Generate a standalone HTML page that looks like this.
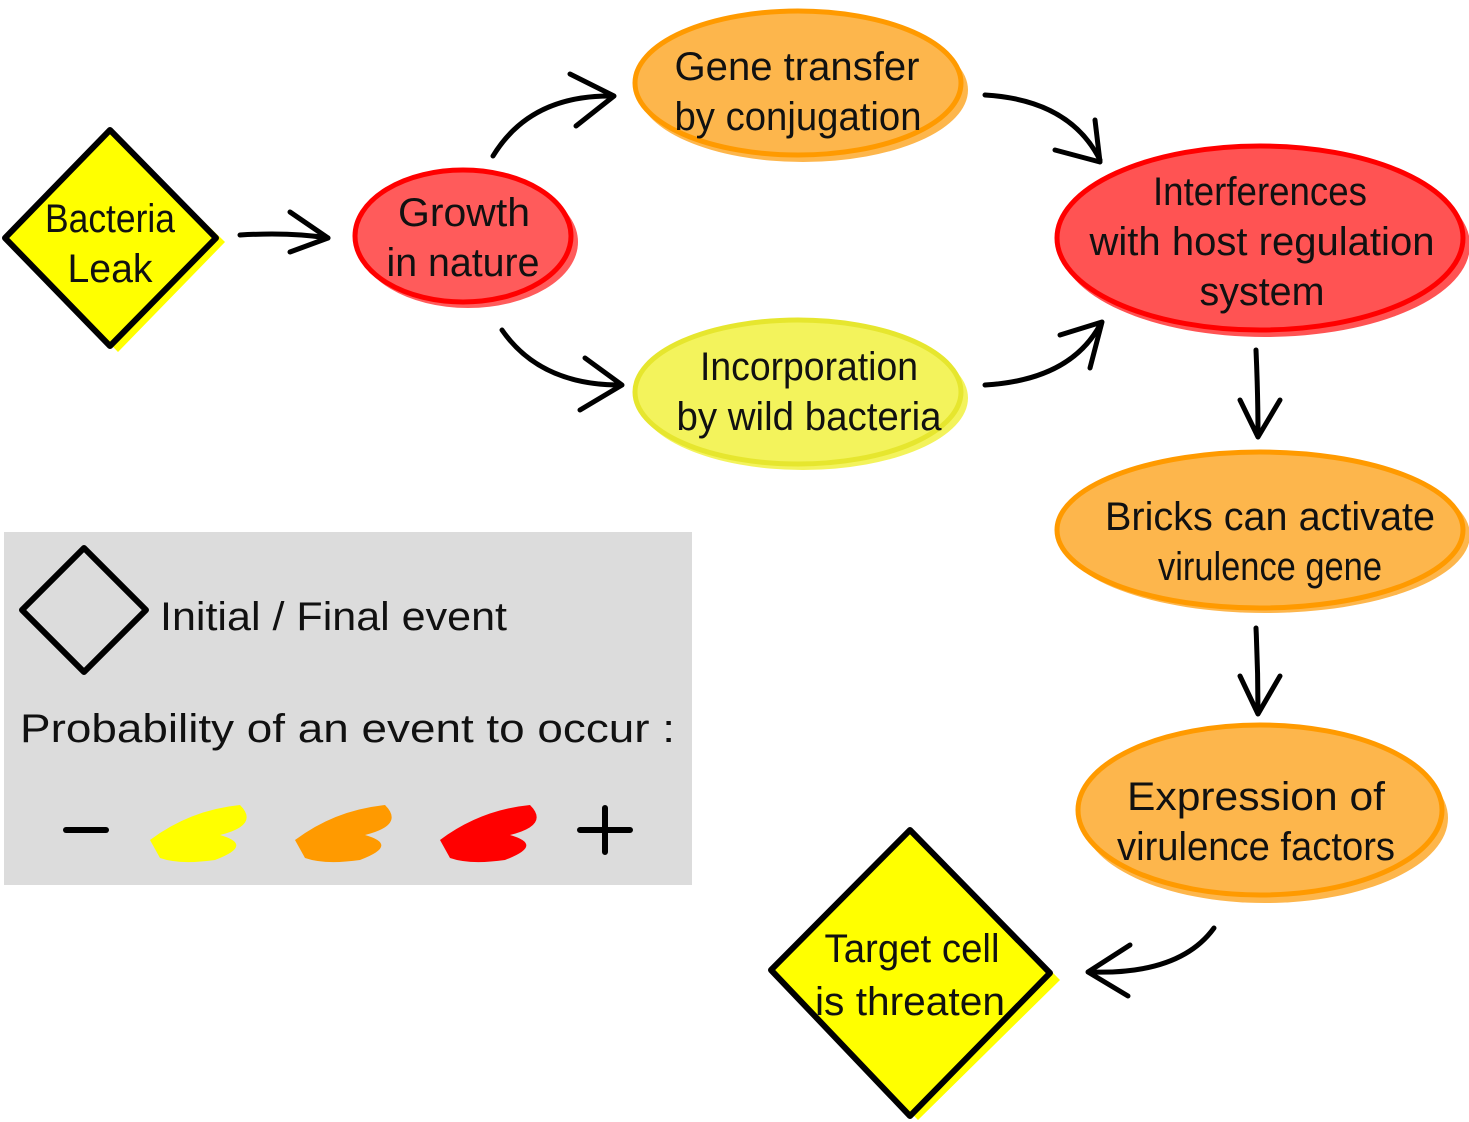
<!DOCTYPE html>
<html><head><meta charset="utf-8">
<style>
html,body{margin:0;padding:0;background:#fff;}
svg{display:block;}
text{font-family:"Liberation Sans",sans-serif;font-size:40px;fill:#111;text-anchor:middle;}
</style></head>
<body>
<svg width="1469" height="1122" viewBox="0 0 1469 1122">
<g fill="none" stroke="#000" stroke-width="5" stroke-linecap="round" stroke-linejoin="round">
<g><path d="M240 235 Q290 232 328 238"/><path d="M290 212 L328 238 L290 252"/></g>
<g><path d="M493 156 Q530 95 612 96"/><path d="M570 74 L614 96 L576 126"/></g>
<g><path d="M502 330 Q540 385 620 385"/><path d="M585 358 L622 385 L580 410"/></g>
<g><path d="M985 95 Q1070 100 1100 160"/><path d="M1055 150 L1100 162 L1095 120"/></g>
<g><path d="M985 385 Q1070 380 1100 325"/><path d="M1060 335 L1102 322 L1090 368"/></g>
<g><path d="M1256 350 Q1258 395 1258 435"/><path d="M1240 400 L1258 437 L1280 400"/></g>
<g><path d="M1256 628 Q1258 670 1258 712"/><path d="M1240 676 L1258 714 L1280 676"/></g>
<g><path d="M1214 928 Q1180 975 1090 972"/><path d="M1130 945 L1088 972 L1128 996"/></g>
</g>

<g>
<path d="M118 138 L225 242 L118 352 L12 242 Z" fill="#ffff00"/>
<path d="M110 130 L216 238 L110 346 L5 238 Z" fill="#ffff00" stroke="#000" stroke-width="6" stroke-linejoin="round"/>
<text x="110" y="232" textLength="130" lengthAdjust="spacingAndGlyphs">Bacteria</text><text x="110" y="282" textLength="85" lengthAdjust="spacingAndGlyphs">Leak</text>
</g>
<g>
<path d="M918 836 L1060 980 L918 1120 L778 976 Z" fill="#ffff00"/>
<path d="M910 830 L1050 973 L910 1116 L771 970 Z" fill="#ffff00" stroke="#000" stroke-width="6" stroke-linejoin="round"/>
<text x="912" y="962" textLength="175" lengthAdjust="spacingAndGlyphs">Target cell</text><text x="910" y="1015" textLength="190" lengthAdjust="spacingAndGlyphs">is threaten</text>
</g>

<g>
<ellipse cx="468" cy="242" rx="110" ry="66" fill="#ff5b5b"/>
<ellipse cx="463" cy="236" rx="108" ry="66" fill="#ff5b5b" stroke="#ff0000" stroke-width="5"/>
<text x="464" y="226" textLength="132" lengthAdjust="spacingAndGlyphs">Growth</text><text x="463" y="276" textLength="153" lengthAdjust="spacingAndGlyphs">in nature</text>
</g>
<g>
<ellipse cx="803" cy="90" rx="165" ry="72" fill="#fdb64c"/>
<ellipse cx="798" cy="83" rx="163" ry="72" fill="#fdb64c" stroke="#ff9a00" stroke-width="5"/>
<text x="797" y="80" textLength="245" lengthAdjust="spacingAndGlyphs">Gene transfer</text><text x="798" y="130" textLength="247" lengthAdjust="spacingAndGlyphs">by conjugation</text>
</g>
<g>
<ellipse cx="803" cy="398" rx="165" ry="72" fill="#f3f35c"/>
<ellipse cx="798" cy="392" rx="163" ry="72" fill="#f3f35c" stroke="#e6e62e" stroke-width="5"/>
<text x="809" y="380" textLength="218" lengthAdjust="spacingAndGlyphs">Incorporation</text><text x="809" y="430" textLength="265" lengthAdjust="spacingAndGlyphs">by wild bacteria</text>
</g>
<g>
<ellipse cx="1265" cy="245" rx="205" ry="92" fill="#ff5353"/>
<ellipse cx="1260" cy="238" rx="203" ry="92" fill="#ff5353" stroke="#ff0000" stroke-width="5"/>
<text x="1260" y="205" textLength="214" lengthAdjust="spacingAndGlyphs">Interferences</text><text x="1262" y="255" textLength="345" lengthAdjust="spacingAndGlyphs">with host regulation</text><text x="1262" y="305" textLength="125" lengthAdjust="spacingAndGlyphs">system</text>
</g>
<g>
<ellipse cx="1265" cy="535" rx="205" ry="78" fill="#fdb64c"/>
<ellipse cx="1260" cy="530" rx="203" ry="78" fill="#fdb64c" stroke="#ff9a00" stroke-width="5"/>
<text x="1270" y="530" textLength="330" lengthAdjust="spacingAndGlyphs">Bricks can activate</text><text x="1270" y="580" textLength="224" lengthAdjust="spacingAndGlyphs">virulence gene</text>
</g>
<g>
<ellipse cx="1265" cy="818" rx="183" ry="85" fill="#fdb64c"/>
<ellipse cx="1260" cy="810" rx="182" ry="85" fill="#fdb64c" stroke="#ff9a00" stroke-width="5"/>
<text x="1256" y="810" textLength="258" lengthAdjust="spacingAndGlyphs">Expression of</text><text x="1256" y="860" textLength="278" lengthAdjust="spacingAndGlyphs">virulence factors</text>
</g>

<g>
<rect x="4" y="532" width="688" height="353" fill="#dcdcdc"/>
<path d="M84 548 L146 610 L84 672 L22 610 Z" fill="none" stroke="#000" stroke-width="6" stroke-linejoin="round"/>
<text x="160" y="630" style="text-anchor:start" textLength="347" lengthAdjust="spacingAndGlyphs">Initial / Final event</text>
<text x="20" y="742" style="text-anchor:start" textLength="655" lengthAdjust="spacingAndGlyphs">Probability of an event to occur :</text>
<path d="M66 830 L106 830" stroke="#000" stroke-width="6" stroke-linecap="round"/>
<g><path d="M150 840 Q190 810 240 805 Q260 825 220 835 Q255 845 215 860 Q180 865 160 858 Z" fill="#ffff00"/></g>
<g><path d="M295 840 Q335 810 385 805 Q405 825 365 835 Q400 845 360 860 Q325 865 305 858 Z" fill="#ff9a00"/></g>
<g><path d="M440 840 Q480 810 530 805 Q550 825 510 835 Q545 845 505 860 Q470 865 450 858 Z" fill="#ff0000"/></g>
<path d="M580 830 L630 830 M605 808 L605 852" stroke="#000" stroke-width="6" stroke-linecap="round"/>
</g>
</svg>
</body></html>
